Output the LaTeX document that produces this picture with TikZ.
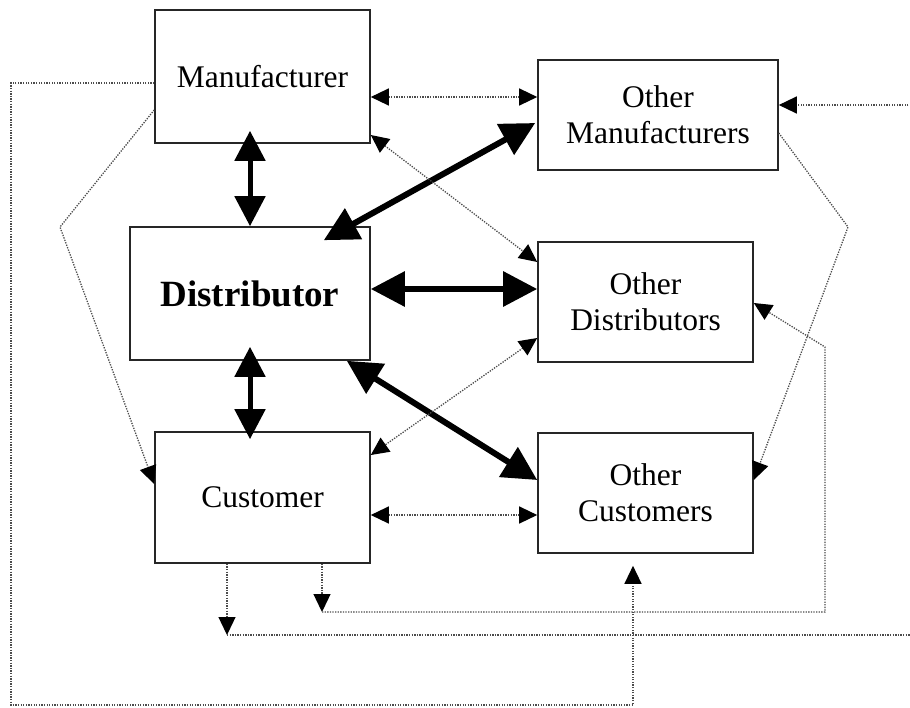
\documentclass[tikz,border=0pt]{standalone}
\usepackage{fontspec}
\setmainfont{Liberation Serif}
\usetikzlibrary{arrows.meta,calc}
\tikzset{
  smalltip/.tip={Triangle[length=18pt,width=17pt,color=black]},
  bigtip/.tip={Triangle[length=34pt,width=34pt,color=black]},
  midtip/.tip={Triangle[length=30pt,width=30pt,color=black]},
  box/.style={draw=black!85,line width=1.6pt,fill=white,align=center,inner sep=0pt,
    font=\fontsize{31.5}{36}\selectfont},
  dotline/.style={draw=black!70,line width=1.3pt,dash pattern=on 1.3pt off 1.3pt},
  thickarrow/.style={draw=black,line width=6pt,{bigtip}-{bigtip}},
  vertarrow/.style={draw=black,line width=5pt,{midtip}-{midtip}},
}
\begin{document}
\begin{tikzpicture}[x=1pt,y=-1pt]
\useasboundingbox (0,0) rectangle (910,707);
\clip (0,0) rectangle (910,707);
\node[box,minimum width=215pt,minimum height=133pt] (man) at (262.5,76.5) {Manufacturer};
\node[box,minimum width=240pt,minimum height=110pt] (oman) at (658,115) {Other\\Manufacturers};
\node[box,minimum width=240pt,minimum height=133pt] (dist) at (250,293.5) {\fontsize{37}{40}\selectfont\bfseries Distributor};
\node[box,minimum width=215pt,minimum height=120pt] (odist) at (645.5,302) {Other\\Distributors};
\node[box,minimum width=215pt,minimum height=131pt] (cust) at (262.5,497.5) {Customer};
\node[box,minimum width=215pt,minimum height=120pt] (ocust) at (645.5,493) {Other\\Customers};

\coordinate (l1) at (60,227);
\coordinate (o1) at (11,83);
\coordinate (o2) at (11,705);
\coordinate (o3) at (633,705);
\coordinate (r1) at (848,227);
\coordinate (c1) at (227,635);
\coordinate (c2) at (915,635);
\coordinate (c3) at (915,105);
\coordinate (d1) at (322,612);
\coordinate (d2) at (825,612);
\coordinate (d3) at (825,347);

% thick arrows
\draw[vertarrow] ([yshift=13pt]man.south -| 250,0) -- (dist.north -| 250,0);
\draw[vertarrow] ([yshift=14pt]dist.south -| 250,0) -- ([yshift=-8pt]cust.north -| 250,0);
\draw[thickarrow] (dist.east |- 0,289) -- (odist.west |- 0,289);
\draw[thickarrow] ([shift={(-47,14)}]dist.north east) -- ([xshift=-2pt]oman.west |- 0,123);
\draw[thickarrow] ([xshift=-24pt]dist.south east) -- (ocust.west |- 0,480);

% dotted double arrows
\draw[dotline,{smalltip}-{smalltip}] (man.east |- 0,97) -- (oman.west |- 0,97);
\draw[dotline,{smalltip}-{smalltip}] (man.east |- 0,135) -- (odist.west |- 0,262);
\draw[dotline,{smalltip}-{smalltip}] (odist.west |- 0,338) -- (cust.east |- 0,455);
\draw[dotline,{smalltip}-{smalltip}] (cust.east |- 0,515) -- (ocust.west |- 0,515);

% dotted one-way arrows
\draw[dotline,-{smalltip}] (man.west |- 0,110) -- (l1) -- (cust.west |- 0,484);
\draw[dotline,-{smalltip},shorten >=12pt] (man.west |- 0,83) -- (o1) -- (o2) -- (o3) -- (ocust.south -| o3);
\draw[dotline,-{smalltip}] (oman.east |- 0,133) -- (r1) -- (ocust.east |- 0,480);
\draw[dotline,-{smalltip}] (cust.south -| c1) -- (c1);
\draw[dotline,-{smalltip}] (c1) -- (c2) -- (c3) -- (oman.east |- c3);
\draw[dotline,-{smalltip}] (cust.south -| d1) -- (d1);
\draw[dotline,-{smalltip}] (d1) -- (d2) -- (d3) -- (odist.east |- 0,303);
\end{tikzpicture}
\end{document}
